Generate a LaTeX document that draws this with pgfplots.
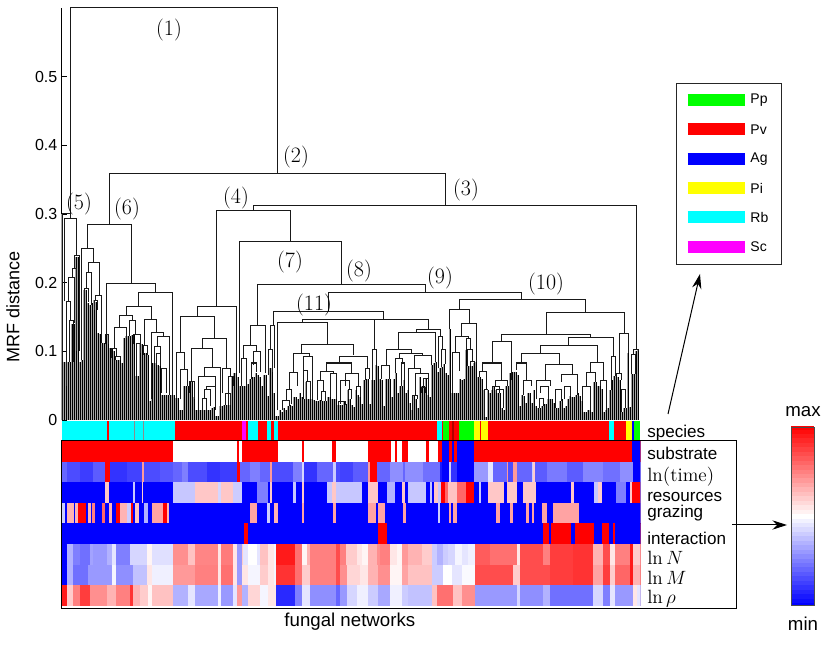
\documentclass[border=0pt]{standalone}
\usepackage{fontspec}
\usepackage{pgfplots}
\usepackage{pgfplotstable}
\pgfplotsset{compat=1.18}
\usetikzlibrary{arrows.meta}
\newfontfamily\hv{Liberation Sans}
\newcommand{\fs}[1]{\fontsize{#1}{#1}\selectfont}
\definecolor{pgreen}{rgb}{0,1,0}
\definecolor{pred}{rgb}{1,0,0}
\definecolor{pblue}{rgb}{0,0,1}
\definecolor{pyellow}{rgb}{1,1,0}
\definecolor{pcyan}{rgb}{0,1,1}
\definecolor{pmagenta}{rgb}{1,0,1}
\tikzset{keylabel/.style={anchor=west,inner sep=0pt,font=\hv\fs{10.5}}}

% leaf heights of the dendrogram, one per network, left to right
\pgfplotstableread[row sep=\\,header=false]{
.30\\.085\\.085\\.085\\.085\\.14\\.14\\.238\\.238\\.085\\
.087\\.19\\.19\\.17\\.168\\.17\\.175\\.172\\.126\\.125\\
.112\\.112\\.125\\.125\\.105\\.105\\.1\\.087\\.087\\.087\\
.083\\.12\\.122\\.123\\.123\\.124\\.124\\.064\\.064\\.11\\
.11\\.097\\.097\\.095\\.027\\.083\\.083\\.083\\.08\\.078\\
.036\\.036\\.036\\.036\\.037\\.037\\.036\\.032\\.032\\.015\\
.015\\.049\\.049\\.05\\.056\\.056\\.034\\.015\\.014\\.014\\
.014\\.014\\.015\\.015\\.015\\.017\\.019\\.006\\.006\\.02\\
.02\\.022\\.022\\.022\\.022\\.063\\.068\\.068\\.062\\.05\\
.049\\.049\\.05\\.053\\.06\\.063\\.063\\.068\\.066\\.063\\
.05\\.066\\.066\\.035\\.076\\.076\\.04\\.006\\.006\\.015\\
.012\\.017\\.014\\.02\\.022\\.02\\.034\\.034\\.03\\.04\\
.034\\.03\\.055\\.03\\.03\\.03\\.029\\.027\\.027\\.029\\
.027\\.027\\.027\\.034\\.034\\.03\\.03\\.03\\.022\\.022\\
.022\\.027\\.024\\.044\\.03\\.022\\.019\\.044\\.036\\.034\\
.024\\.058\\.06\\.06\\.024\\.058\\.058\\.08\\.078\\.06\\
.058\\.02\\.06\\.06\\.06\\.034\\.06\\.068\\.04\\.05\\
.05\\.058\\.04\\.044\\.025\\.014\\.035\\.03\\.017\\.063\\
.05\\.05\\.06\\.036\\.034\\.08\\.083\\.085\\.07\\.075\\
.077\\.082\\.068\\.066\\.132\\.039\\.04\\.039\\.039\\.06\\
.058\\.06\\.102\\.078\\.078\\.078\\.083\\.085\\.063\\.063\\
.06\\.044\\.004\\.044\\.04\\.044\\.05\\.044\\.04\\.04\\
.017\\.015\\.05\\.05\\.068\\.07\\.07\\.07\\.065\\.02\\
.036\\.035\\.025\\.04\\.04\\.025\\.044\\.02\\.017\\.017\\
.02\\.024\\.024\\.03\\.03\\.03\\.025\\.017\\.018\\.028\\
.03\\.018\\.02\\.03\\.035\\.033\\.033\\.036\\.039\\.035\\
.027\\.012\\.012\\.014\\.014\\.012\\.055\\.055\\.05\\.05\\
.045\\.012\\.015\\.017\\.044\\.058\\.064\\.064\\.062\\.058\\
.012\\.017\\.017\\.098\\.019\\.067\\.067\\.1\\.103\\
}\leafheights

% heat map rows: start of each run (leaf position) and its scaled value
\pgfplotstableread[row sep=\\]{a m\\
0 1\\55.7 .5\\87.7 1\\88.7 .5\\90 1\\107.8 .5\\119.8 1\\121 .5\\134.8 1\\136.8 .5\\
152.8 1\\164.5 .5\\166.5 1\\167.7 .5\\170.2 1\\173.2 .5\\181.8 1\\183.7 .5\\187.8 1\\
190.2 0\\193.5 1\\195.2 0\\195.8 1\\197.7 0\\206 1\\285.2 0\\
}\rowsubstrate
\pgfplotstableread[row sep=\\]{a m\\
0 .2\\2.3 .15\\9 .12\\15.7 .18\\21.5 1\\24 .1\\32.3 .13\\39.8 .7\\40.8 .15\\49 .17\\
55.7 .2\\59.8 .25\\63.2 .15\\72.3 .1\\79 .12\\87.7 1\\89 .2\\94 .25\\99 .2\\104 .7\\
104.8 .15\\115.7 .25\\119.8 .42\\121 .1\\127.3 .2\\135.7 .4\\136.8 .15\\139 .13\\
145.7 .18\\153.2 .7\\154 1\\157.3 .2\\164 .28\\170.7 .2\\171.5 .28\\180.7 .22\\189 .05\\
190.2 0\\193.5 .4\\194.5 .1\\197.7 0\\206 .3\\213.2 .45\\215.7 .2\\222.3 .7\\223.2 .15\\
225.7 .7\\227.3 .2\\234.8 .4\\235.7 .6\\236.5 .18\\242.3 .24\\252.3 .18\\260.7 .26\\
270.7 .22\\279 .28\\285.7 0\\
}\rowtime
\pgfplotstableread[row sep=\\]{a m\\
0 0\\21.5 .61\\23.7 0\\35.7 .39\\36.5 0\\39.8 .6\\40.7 0\\55.7 .39\\66.5 .61\\78.2 .42\\
79.3 .61\\85.7 .4\\89.8 0\\97.3 .25\\102.8 0\\104 .61\\104.8 0\\115.7 .39\\116.8 0\\
119.8 .61\\121 0\\132.7 .39\\134.8 .61\\136.8 .39\\149.8 0\\152.8 .61\\158.2 0\\162.7 .35\\
166.5 0\\170.2 .61\\171.5 0\\173.2 .39\\181.8 0\\184 .39\\184.8 0\\186.2 .61\\187.8 .39\\
189.5 1\\191.5 .8\\193.2 .62\\197.3 .8\\202 1\\206 0\\208.5 .39\\209.5 0\\212.8 .61\\
221 0\\222.3 .61\\227.7 0\\230.7 .61\\237 0\\254.3 .61\\256.2 0\\266.2 .39\\268.2 .6\\
269.8 0\\276.8 .25\\282 0\\284 .61\\285.2 1\\
}\rowresources
\pgfplotstableread[row sep=\\]{a m\\
0 .4\\1.5 0\\2.7 .65\\6 0\\6.7 .65\\7.8 1\\12 0\\13.2 .65\\14.3 0\\15.2 .75\\16.5 0\\
19.8 .8\\21.5 0\\23.7 .65\\25 0\\27 1\\29 .65\\32.3 .4\\34.5 1\\35.7 0\\36.5 .62\\38.7 0\\
41 .35\\43 0\\45.2 .68\\50.7 1\\52.7 .65\\53.7 0\\94 .68\\97.3 0\\102.7 .4\\104 0\\
106 .65\\108 0\\119.8 .68\\121 0\\135.7 .68\\136.8 0\\152.8 .68\\157 0\\158.2 .68\\161.3 0\\
170.7 .68\\172 0\\188 .4\\189 0\\193.5 .68\\194.5 0\\195.7 .68\\197.7 0\\217 .68\\219 0\\
224 .68\\225.7 0\\231.8 .68\\233.7 0\\234.8 .68\\236.2 0\\240.2 .68\\242.3 0\\245.7 .68\\258.5 0\\
}\rowgrazing
\pgfplotstableread[row sep=\\]{a m\\
0 0\\91 1\\93.2 0\\158.2 1\\162.7 0\\240.3 1\\243.7 0\\244.7 1\\254.3 0\\256.5 1\\266 0\\
270.2 1\\273.5 0\\275.7 1\\276.7 0\\
}\rowinteraction
\pgfplotstableread[row sep=\\]{a m\\
0 0\\2.3 .35\\5.7 .25\\9 .22\\14 .32\\15.7 .3\\22.3 .35\\24.8 .45\\26.8 .25\\34 .42\\42.3 .52\\
44.8 .44\\55.7 .72\\63.2 .62\\66.5 .74\\78.2 .55\\79.3 .76\\85.7 .55\\87.7 .3\\89.8 .6\\
90.7 .45\\93.2 .5\\97.3 .45\\99 .62\\103.2 .55\\106 .48\\107 .95\\116.5 .78\\119.8 .52\\
122.3 .65\\124 .75\\137 .85\\139 .75\\142 .6\\147.3 .55\\149.8 .52\\152.8 .65\\157.3 .72\\
159 .75\\164 .55\\167.3 .52\\169.8 .7\\173.2 .65\\179.8 .6\\184.8 .4\\187.3 .35\\190.7 .4\\
193.2 .42\\196.5 .48\\199.8 .45\\203.2 .47\\206.5 .82\\214 .78\\227.3 .55\\229 .85\\
240.7 .75\\244 .88\\255.7 .9\\265.7 .65\\270.7 .85\\274 .55\\276.5 .75\\284 .95\\285.7 .6\\
}\rowlnN
\pgfplotstableread[row sep=\\]{a m\\
0 0\\2.3 .35\\5.7 .22\\13.2 .3\\24.8 .48\\26.8 .28\\35.7 .38\\42.3 .55\\44.8 .47\\55.7 .7\\
66.5 .75\\78.2 .55\\79.3 .78\\85.7 .55\\87.7 .3\\89.8 .55\\93.2 .48\\99 .6\\103.2 .55\\
106 .48\\107 .9\\116.5 .78\\119.8 .6\\124 .75\\137 .85\\139 .72\\142.3 .58\\149 .55\\
153.2 .65\\158.2 .72\\164 .52\\169.8 .68\\173.2 .62\\184.8 .4\\190.7 .5\\194.8 .45\\
199.8 .49\\206.5 .85\\225.7 .6\\229 .85\\244 .88\\255.7 .9\\265.7 .68\\270.7 .88\\
274 .6\\276.5 .8\\284 .95\\285.7 .65\\
}\rowlnM
\pgfplotstableread[row sep=\\]{a m\\
0 .95\\2.3 .6\\5.7 .75\\9 .88\\14 .72\\22.3 .65\\26.8 .75\\34 .9\\35.3 .65\\39 .6\\43 .52\\
44.8 .62\\55.7 .35\\63.2 .45\\66.5 .33\\78.2 .47\\79.3 .3\\85.7 .45\\87.7 .7\\89.8 .35\\
93.2 .58\\99 .48\\103.2 .55\\107 .08\\116.5 .25\\119.8 .45\\124 .28\\137 .2\\139 .3\\
142.3 .42\\147.3 .47\\153.2 .4\\158.2 .33\\164 .47\\169.8 .4\\173.2 .38\\184.8 .62\\
187.3 .78\\195.7 .62\\199.8 .72\\206.5 .3\\227.3 .42\\229 .28\\240.7 .35\\244 .22\\
265.7 .42\\270.7 .25\\274 .45\\276.5 .3\\285.7 .55\\287.3 .45\\
}\rowlnrho

\pgfplotsset{
  heatrow/.style={
    point meta=\thisrow{m},
    quiver={u={289.5-\thisrow{a}},v=0,
      every arrow/.append style={-,line width=15.6pt,draw=mapped color}}},
  speciesband/.style={
    quiver={u={\thisrow{b}-\thisrow{a}},v=0,
      every arrow/.append style={-,line width=15.6pt,draw=#1}}},
}

\begin{document}
\begin{tikzpicture}
\useasboundingbox (0,0) rectangle (623.25pt,483.75pt);

% dendrogram
\begin{axis}[
    at={(46.5pt,168.75pt)}, anchor=south west, scale only axis,
    width=433.5pt, height=309pt,
    xmin=0, xmax=289, ymin=0, ymax=0.6, clip=false,
    axis x line=none, axis y line=left,
    y axis line style={-,line width=.75pt},
    ytick={0,0.1,0.2,0.3,0.4,0.5},
    yticklabels={0,0.1,0.2,0.3,0.4,0.5},
    tick align=inside, major tick length=4pt,
    tick style={black,line width=.6pt},
    yticklabel style={font=\hv\fs{12}},
    ylabel={MRF distance},
    every axis y label/.style={at={(axis description cs:-0.0848,0.274)},rotate=90,anchor=center,font=\hv\fs{13.5}},
    unbounded coords=jump,
]
% grey underlay, then thin black stems: gives the dense hatched look
\addplot[ycomb,black!35,line width=1.5pt,no marks] table[x expr=\coordindex,y index=0] {\leafheights};
\addplot[ycomb,black,line width=.7pt,no marks] table[x expr=\coordindex,y index=0] {\leafheights};
\addplot[black!90,line width=.75pt,no marks] coordinates {
(4.3,.3)(4.3,.6)(107.5,.6)(107.5,.359)(0,nan)
(23.5,.284)(23.5,.359)(191.5,.359)(191.5,.313)(0,nan)
(.3,0)(.3,.3)(4.3,.3)(4.3,.294)(0,nan)
(1.5,.173)(1.5,.294)(7.3,.294)(7.3,.239)(0,nan)
(6.5,.22)(6.5,.239)(8.7,.239)(8.7,.1)(0,nan)
(5.2,.208)(5.2,.22)(7.3,.22)(7.3,.1)(0,nan)
(3.5,.173)(3.5,.208)(6.5,.208)(6.5,.141)(0,nan)
(2.3,.05)(2.3,.173)(4.3,.173)(4.3,.145)(0,nan)
(4,.085)(4,.145)(5.7,.145)(5.7,.085)(0,nan)
(12.7,.25)(12.7,.284)(34.5,.284)(34.5,.199)(0,nan)
(9.8,.087)(9.8,.25)(15.7,.25)(15.7,.229)(0,nan)
(13.2,.215)(13.2,.229)(18.5,.229)(18.5,.182)(0,nan)
(12.3,.192)(12.3,.215)(14.8,.215)(14.8,.168)(0,nan)
(11.2,.087)(11.2,.192)(13.2,.192)(13.2,.172)(0,nan)
(16.8,.174)(16.8,.182)(19.8,.182)(19.8,.112)(0,nan)
(16,.16)(16,.174)(17.7,.174)(17.7,.16)(0,nan)
(22.3,.125)(22.3,.199)(46.7,.199)(46.7,.185)(0,nan)
(21.5,.11)(21.5,.125)(23.2,.125)(23.2,.11)(0,nan)
(38.3,.166)(38.3,.185)(55,.185)(55,.036)(0,nan)
(32,.152)(32,.166)(44.5,.166)(44.5,.146)(0,nan)
(28.8,.134)(28.8,.152)(35.2,.152)(35.2,.145)(0,nan)
(26,.104)(26,.134)(32,.134)(32,.12)(0,nan)
(24.8,.09)(24.8,.104)(27.3,.104)(27.3,.092)(0,nan)
(26.5,.087)(26.5,.092)(29,.092)(29,.087)(0,nan)
(33.7,.123)(33.7,.145)(36.8,.145)(36.8,.124)(0,nan)
(35.7,.11)(35.7,.124)(39.3,.124)(39.3,.097)(0,nan)
(37.3,.064)(37.3,.111)(39.3,.111)(39.3,.097)(0,nan)
(41.3,.109)(41.3,.146)(47.3,.146)(47.3,.128)(0,nan)
(40.7,.095)(40.7,.109)(42.7,.109)(42.7,.095)(0,nan)
(44.5,.03)(44.5,.128)(50.7,.128)(50.7,.122)(0,nan)
(47.7,.107)(47.7,.122)(53.5,.122)(53.5,.036)(0,nan)
(46.2,.083)(46.2,.107)(49,.107)(49,.084)(0,nan)
(47.3,.08)(47.3,.097)(49.3,.097)(49.3,.078)(0,nan)
(49.5,.04)(49.5,.075)(52,.075)(52,.04)(0,nan)
(95.7,.305)(95.7,.313)(287.3,.313)(287.3,.103)(0,nan)
(77.3,.165)(77.3,.305)(114.3,.305)(114.3,.26)(0,nan)
(67.7,.151)(67.7,.165)(87,.165)(87,.068)(0,nan)
(59.3,.098)(59.3,.151)(76,.151)(76,.119)(0,nan)
(57.3,.032)(57.3,.098)(61.2,.098)(61.2,.073)(0,nan)
(59.3,.03)(59.3,.073)(62.7,.073)(62.7,.049)(0,nan)
(70.2,.104)(70.2,.119)(82,.119)(82,.075)(0,nan)
(64.8,.056)(64.8,.104)(75.2,.104)(75.2,.076)(0,nan)
(63.7,.04)(63.7,.056)(66,.056)(66,.03)(0,nan)
(71.2,.064)(71.2,.076)(79.3,.076)(79.3,.016)(0,nan)
(68.2,.015)(68.2,.064)(76.8,.064)(76.8,.049)(0,nan)
(72.3,.044)(72.3,.049)(76.8,.049)(76.8,.015)(0,nan)
(71.2,.032)(71.2,.045)(74.3,.045)(74.3,.02)(0,nan)
(70,.014)(70,.032)(72.3,.032)(72.3,.014)(0,nan)
(80.3,.04)(80.3,.075)(84,.075)(84,.063)(0,nan)
(81.8,.022)(81.8,.039)(84,.039)(84,.022)(0,nan)
(83.2,.022)(83.2,.063)(85.7,.063)(85.7,.05)(0,nan)
(88.7,.068)(88.7,.26)(139.8,.26)(139.8,.197)(0,nan)
(97.8,.138)(97.8,.197)(181.7,.197)(181.7,.186)(0,nan)
(94,.108)(94,.138)(101.5,.138)(101.5,.068)(0,nan)
(90.7,.09)(90.7,.108)(97.3,.108)(97.3,.1)(0,nan)
(89.8,.049)(89.8,.09)(92.3,.09)(92.3,.05)(0,nan)
(95.7,.08)(95.7,.1)(99,.1)(99,.07)(0,nan)
(94.8,.06)(94.8,.083)(97,.083)(97,.07)(0,nan)
(133.2,.158)(133.2,.186)(229.8,.186)(229.8,.176)(0,nan)
(105.7,.138)(105.7,.158)(160.7,.158)(160.7,.146)(0,nan)
(104.3,.103)(104.3,.138)(106,.138)(106,.075)(0,nan)
(103.3,.066)(103.3,.102)(105.3,.102)(105.3,.07)(0,nan)
(120.3,.142)(120.3,.146)(183.2,.146)(183.2,.132)(0,nan)
(156.2,.146)(156.2,.103)(0,nan)
(155.3,.058)(155.3,.103)(157.3,.103)(157.3,.08)(0,nan)
(107.8,.014)(107.8,.142)(132.7,.142)(132.7,.11)(0,nan)
(119.5,.097)(119.5,.11)(145.7,.11)(145.7,.094)(0,nan)
(115.7,.069)(115.7,.097)(123.7,.097)(123.7,.092)(0,nan)
(113.5,.045)(113.5,.069)(117.5,.069)(117.5,.049)(0,nan)
(112,.029)(112,.045)(114.8,.045)(114.8,.024)(0,nan)
(110.3,.015)(110.3,.029)(113.7,.029)(113.7,.02)(0,nan)
(120.7,.072)(120.7,.092)(125.2,.092)(125.2,.03)(0,nan)
(120.7,.03)(120.7,.072)(122.7,.072)(122.7,.056)(0,nan)
(122,.03)(122,.056)(124,.056)(124,.03)(0,nan)
(138.7,.083)(138.7,.093)(152.7,.093)(152.7,.075)(0,nan)
(132.3,.07)(132.3,.083)(144.8,.083)(144.8,.068)(0,nan)
(129,.058)(129,.07)(135.7,.07)(135.7,.068)(0,nan)
(127.8,.029)(127.8,.058)(130.7,.058)(130.7,.041)(0,nan)
(129.8,.027)(129.8,.041)(131.5,.041)(131.5,.027)(0,nan)
(134,.034)(134,.068)(137.3,.068)(137.3,.03)(0,nan)
(139.3,.024)(139.3,.058)(143.7,.058)(143.7,.044)(0,nan)
(138.2,.022)(138.2,.027)(141.5,.027)(141.5,.022)(0,nan)
(143.2,.03)(143.2,.044)(144.8,.044)(144.8,.03)(0,nan)
(141.5,.05)(141.5,.068)(148.2,.068)(148.2,.049)(0,nan)
(147,.044)(147,.049)(149,.049)(149,.034)(0,nan)
(151.5,.058)(151.5,.075)(153.7,.075)(153.7,.06)(0,nan)
(177.3,.128)(177.3,.132)(189,.132)(189,.122)(0,nan)
(168.2,.103)(168.2,.128)(186.7,.128)(186.7,.085)(0,nan)
(188.2,.075)(188.2,.122)(190.3,.122)(190.3,.103)(0,nan)
(189.5,.077)(189.5,.103)(191.5,.103)(191.5,.082)(0,nan)
(162,.078)(162,.103)(174.5,.103)(174.5,.097)(0,nan)
(159.8,.06)(159.8,.08)(163.7,.08)(163.7,.06)(0,nan)
(168.7,.089)(168.7,.097)(180.3,.097)(180.3,.094)(0,nan)
(166.8,.068)(166.8,.089)(170.3,.089)(170.3,.083)(0,nan)
(169.5,.05)(169.5,.083)(171.2,.083)(171.2,.058)(0,nan)
(176,.075)(176,.094)(184.8,.094)(184.8,.08)(0,nan)
(173.2,.044)(173.2,.075)(179.3,.075)(179.3,.068)(0,nan)
(176.5,.035)(176.5,.068)(183.2,.068)(183.2,.06)(0,nan)
(180.7,.048)(180.7,.06)(183.2,.06)(183.2,.036)(0,nan)
(179.8,.04)(179.8,.048)(181.5,.048)(181.5,.04)(0,nan)
(175.3,.014)(175.3,.035)(177.7,.035)(177.7,.03)(0,nan)
(198.5,.161)(198.5,.176)(261.5,.176)(261.5,.157)(0,nan)
(193.5,.132)(193.5,.161)(203.5,.161)(203.5,.14)(0,nan)
(199.8,.122)(199.8,.14)(207,.14)(207,.085)(0,nan)
(196.8,.098)(196.8,.122)(203.2,.122)(203.2,.119)(0,nan)
(195.3,.039)(195.3,.098)(198.7,.098)(198.7,.071)(0,nan)
(202,.102)(202,.119)(204.3,.119)(204.3,.102)(0,nan)
(202.8,.078)(202.8,.102)(205.3,.102)(205.3,.085)(0,nan)
(204,.078)(204,.085)(206.2,.085)(206.2,.083)(0,nan)
(242,.125)(242,.157)(281,.157)(281,.126)(0,nan)
(219.8,.114)(219.8,.125)(264.3,.125)(264.3,.12)(0,nan)
(215.2,.083)(215.2,.114)(224.7,.114)(224.7,.058)(0,nan)
(210.3,.071)(210.3,.083)(219.8,.083)(219.8,.058)(0,nan)
(208.7,.063)(208.7,.071)(212.3,.071)(212.3,.044)(0,nan)
(211,.004)(211,.044)(213.2,.044)(213.2,.044)(0,nan)
(216.7,.049)(216.7,.058)(222.8,.058)(222.8,.05)(0,nan)
(215.3,.044)(215.3,.049)(218.7,.049)(218.7,.04)(0,nan)
(217.3,.04)(217.3,.044)(220.7,.044)(220.7,.017)(0,nan)
(253.3,.108)(253.3,.12)(275.7,.12)(275.7,.092)(0,nan)
(239.3,.097)(239.3,.108)(267.7,.108)(267.7,.084)(0,nan)
(229.8,.083)(229.8,.097)(248.7,.097)(248.7,.081)(0,nan)
(227.3,.073)(227.3,.083)(232,.083)(232,.058)(0,nan)
(230.7,.036)(230.7,.058)(234.8,.058)(234.8,.05)(0,nan)
(241.8,.057)(241.8,.081)(255.3,.081)(255.3,.066)(0,nan)
(237,.03)(237,.057)(244.3,.057)(244.3,.049)(0,nan)
(239,.04)(239,.049)(243.2,.049)(243.2,.03)(0,nan)
(238.5,.017)(238.5,.032)(240.7,.032)(240.7,.02)(0,nan)
(249.8,.056)(249.8,.066)(257.7,.066)(257.7,.036)(0,nan)
(246.5,.018)(246.5,.044)(249.8,.044)(249.8,.028)(0,nan)
(251,.03)(251,.049)(254,.049)(254,.035)(0,nan)
(264,.069)(264,.084)(270.7,.084)(270.7,.058)(0,nan)
(262.3,.049)(262.3,.069)(266.5,.069)(266.5,.055)(0,nan)
(260.3,.027)(260.3,.049)(264,.049)(264,.014)(0,nan)
(269,.05)(269,.058)(272.3,.058)(272.3,.015)(0,nan)
(274.8,.044)(274.8,.092)(276.5,.092)(276.5,.064)(0,nan)
(278.5,.067)(278.5,.126)(283.3,.126)(283.3,.098)(0,nan)
(277.3,.064)(277.3,.067)(279.8,.067)(279.8,.058)(0,nan)
(279.8,.012)(279.8,.044)(281.5,.044)(281.5,.017)(0,nan)
(285.7,.096)(285.7,.103)(288,.103)(288,.1)(0,nan)
(284.8,.067)(284.8,.096)(286.5,.096)(286.5,.067)(0,nan)
};
\end{axis}

% species strip and heat map
\begin{axis}[
    at={(46.5pt,29.25pt)}, anchor=south west, scale only axis,
    width=433.5pt, height=139.05pt,
    xmin=0, xmax=289, ymin=0.5, ymax=9.5, y dir=reverse,
    ticks=none, axis line style={draw=none},
    colormap={bwr}{rgb255=(0,0,255) rgb255=(255,255,255) rgb255=(255,0,0)},
    point meta min=0, point meta max=1,
    xlabel={fungal networks},
    every axis x label/.style={at={(axis description cs:0.498,-0.086)},anchor=center,font=\hv\fs{14}},
]
\addplot[speciesband=pred] table[row sep=\\,x=a,y expr=1] {a b\\0 289\\};
\addplot[speciesband=pcyan] table[row sep=\\,x=a,y expr=1] {a b\\0 22.3\\23.7 41\\41 56.5\\93.2 98.2\\102.7 104.5\\106 107.8\\187.7 189.8\\273.5 276.2\\};
\addplot[speciesband={black!45}] table[row sep=\\,x=a,y expr=1] {a b\\36 36.6\\40.3 41\\};
\addplot[speciesband=pmagenta] table[row sep=\\,x=a,y expr=1] {a b\\89.8 91.8\\};
\addplot[speciesband=pgreen] table[row sep=\\,x=a,y expr=1] {a b\\190.7 193.5\\198.5 206\\286 289\\};
\addplot[speciesband={pred!70!black}] table[row sep=\\,x=a,y expr=1] {a b\\195.2 195.8\\};
\addplot[speciesband=pyellow] table[row sep=\\,x=a,y expr=1] {a b\\206 209\\209.3 213.2\\282 285\\};
\addplot[speciesband=pblue] table[row sep=\\,x=a,y expr=1] {a b\\285 286\\};
\addplot[heatrow] table[x=a,y expr=2] {\rowsubstrate};
\addplot[heatrow] table[x=a,y expr=3] {\rowtime};
\addplot[heatrow] table[x=a,y expr=4] {\rowresources};
\addplot[heatrow] table[x=a,y expr=5] {\rowgrazing};
\addplot[heatrow] table[x=a,y expr=6] {\rowinteraction};
\addplot[heatrow] table[x=a,y expr=7] {\rowlnN};
\addplot[heatrow] table[x=a,y expr=8] {\rowlnM};
\addplot[heatrow] table[x=a,y expr=9] {\rowlnrho};
\end{axis}

% species key
\begin{axis}[
    at={(507.5pt,285pt)}, anchor=south west, scale only axis,
    width=78.75pt, height=135.75pt,
    xmin=0, xmax=105, ymin=0, ymax=181, y dir=reverse,
    ticks=none, axis line style={black!85,line width=.75pt},
]
\addplot[pgreen,line width=9.2pt] coordinates {(11,16)(68.3,16)};
\addplot[pred,line width=9.2pt] coordinates {(11,45.3)(68.3,45.3)};
\addplot[pblue,line width=9.2pt] coordinates {(11,74.7)(68.3,74.7)};
\addplot[pyellow,line width=9.2pt] coordinates {(11,104)(68.3,104)};
\addplot[pcyan,line width=9.2pt] coordinates {(11,133.3)(68.3,133.3)};
\addplot[pmagenta,line width=9.2pt] coordinates {(11,162.7)(68.3,162.7)};
\node[keylabel] at (axis cs:73.5,16) {Pp};
\node[keylabel] at (axis cs:73.5,45.3) {Pv};
\node[keylabel] at (axis cs:73.5,74.7) {Ag};
\node[keylabel] at (axis cs:73.5,104) {Pi};
\node[keylabel] at (axis cs:73.5,133.3) {Rb};
\node[keylabel] at (axis cs:73.5,162.7) {Sc};
\end{axis}

% colour scale
\begin{axis}[
    at={(593.25pt,30pt)}, anchor=south west, scale only axis,
    width=17.25pt, height=133.5pt,
    xmin=0, xmax=1, ymin=0, ymax=1, axis on top,
    ticks=none, axis line style={black!70,line width=.6pt},
    colormap={bwr}{rgb255=(0,0,255) rgb255=(255,255,255) rgb255=(255,0,0)},
    point meta min=0, point meta max=1,
]
\addplot[point meta=y,quiver={u=1,v=0,every arrow/.append style={-,line width=3.8pt,draw=mapped color}}]
  table[row sep=\\,x expr=0,y=l] {l\\
  0\\.025\\.05\\.075\\.1\\.125\\.15\\.175\\.2\\.225\\.25\\.275\\.3\\.325\\.35\\.375\\.4\\.425\\.45\\.475\\.5\\
  .525\\.55\\.575\\.6\\.625\\.65\\.675\\.7\\.725\\.75\\.775\\.8\\.825\\.85\\.875\\.9\\.925\\.95\\.975\\1\\};
\end{axis}

% annotations, in reference pixels
\begin{scope}[x=.75pt,y=-.75pt,yshift=483.75pt]
\draw[black,line width=.75pt] (61.7,441) rectangle (736,609);
\foreach \t/\xx/\yy in {(1)/169/30,(2)/296/157,(3)/466/190,(4)/236/198,(5)/79/204,(6)/127/209,(7)/290/262,(8)/359/271,(9)/440/278,(10)/546/284,(11)/314/305}
  \node[font=\fs{16.5}] at (\xx,\yy) {\t};
\node[anchor=west,inner sep=0pt,font=\hv\fs{12.8}] at (647,433) {species};
\node[anchor=west,inner sep=0pt,font=\hv\fs{12.8}] at (647,453) {substrate};
\node[anchor=west,inner sep=0pt,font=\fs{14.4}] at (647,477) {$\ln(\mathrm{time})$};
\node[anchor=west,inner sep=0pt,font=\hv\fs{12.8}] at (647,497) {resources};
\node[anchor=west,inner sep=0pt,font=\hv\fs{12.8}] at (647,513) {grazing};
\node[anchor=west,inner sep=0pt,font=\hv\fs{12.8}] at (647,538) {interaction};
\node[anchor=west,inner sep=0pt,font=\fs{14.4}] at (647,558) {$\ln N$};
\node[anchor=west,inner sep=0pt,font=\fs{14.4}] at (647,578) {$\ln M$};
\node[anchor=west,inner sep=0pt,font=\fs{14.4}] at (647,599) {$\ln\rho$};
\node[font=\hv\fs{14}] at (803,412) {max};
\node[font=\hv\fs{14}] at (803,624) {min};
\draw[-{Stealth[length=11pt,width=7pt]},black,line width=.75pt] (668,414) -- (700,274);
\draw[-{Stealth[length=11pt,width=7pt]},black,line width=.75pt] (732,525) -- (787,525);
\end{scope}
\end{tikzpicture}
\end{document}
